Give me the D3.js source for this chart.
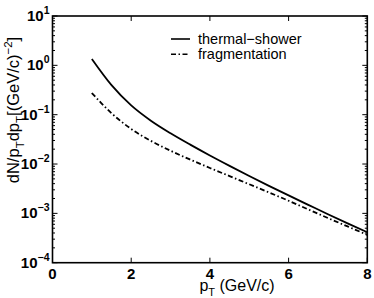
<!DOCTYPE html>
<html>
<head>
<meta charset="utf-8">
<script src="https://cdn.jsdelivr.net/npm/d3@7"></script>
<style>
  body { margin: 0; background: #fff; }
  svg { display: block; font-family: "Liberation Sans", Arial, sans-serif; }
</style>
</head>
<body>
<div id="chart"></div>
<script>
// values
var pT = [1, 1.5, 2, 2.5, 3, 3.5, 4, 4.5, 5, 5.5, 6, 6.5, 7, 7.5, 8];
var thermalShower = [1.343, 0.396, 0.154, 0.0755, 0.042, 0.0247, 0.0149, 0.00918, 0.00573, 0.00361, 0.00231, 0.00149, 0.000962, 0.000628, 0.000415];
var fragmentation = [0.275, 0.107, 0.0513, 0.0295, 0.0186, 0.0123, 0.00832, 0.00569, 0.00389, 0.00266, 0.0018, 0.0012, 0.000804, 0.000543, 0.000367];
var xTicks = [0, 2, 4, 6, 8];
var yExponents = [1, 0, -1, -2, -3, -4];
var legendNames = ["thermal\u2212shower", "fragmentation"];

var width = 374, height = 298;
var margin = {left: 52.5, right: 6.7, top: 16, bottom: 35.3};

var svg = d3.select("#chart").append("svg")
    .attr("width", width)
    .attr("height", height);

var x = d3.scaleLinear().domain([0, 8]).range([margin.left, width - margin.right]);
var y = d3.scaleLog().domain([1e-4, 10]).range([height - margin.bottom, margin.top]);

// minor ticks (log) on left and right
var minor = [];
for (var e = -4; e < 1; e++) {
    for (var k = 2; k <= 9; k++) minor.push(k * Math.pow(10, e));
}
var tickG = svg.append("g").attr("stroke", "#000").attr("stroke-width", 1);
minor.forEach(function (v) {
    tickG.append("line").attr("x1", x(0)).attr("x2", x(0) + 2.5).attr("y1", y(v)).attr("y2", y(v));
    tickG.append("line").attr("x1", x(8)).attr("x2", x(8) - 2.5).attr("y1", y(v)).attr("y2", y(v));
});
yExponents.forEach(function (e) {
    var v = Math.pow(10, e);
    tickG.append("line").attr("x1", x(0)).attr("x2", x(0) + 5).attr("y1", y(v)).attr("y2", y(v));
    tickG.append("line").attr("x1", x(8)).attr("x2", x(8) - 5).attr("y1", y(v)).attr("y2", y(v));
});
xTicks.forEach(function (t) {
    tickG.append("line").attr("x1", x(t)).attr("x2", x(t)).attr("y1", y(1e-4)).attr("y2", y(1e-4) - 5);
    tickG.append("line").attr("x1", x(t)).attr("x2", x(t)).attr("y1", y(10)).attr("y2", y(10) + 5);
});

// frame
svg.append("rect")
    .attr("x", x(0)).attr("y", y(10))
    .attr("width", x(8) - x(0)).attr("height", y(1e-4) - y(10))
    .attr("fill", "none").attr("stroke", "#000").attr("stroke-width", 1.6);

// y tick labels
yExponents.forEach(function (e) {
    var t = svg.append("text")
        .attr("x", x(0) - 3)
        .attr("y", y(Math.pow(10, e)) + 5)
        .attr("text-anchor", "end")
        .attr("font-weight", "bold")
        .attr("font-size", 15);
    t.append("tspan").text("10");
    t.append("tspan").attr("dy", -7).attr("font-size", 10.5)
        .text(e < 0 ? "\u2212" + (-e) : "" + e);
});

// x tick labels
svg.append("g").selectAll("text").data(xTicks).enter().append("text")
    .attr("x", function (d) { return x(d); })
    .attr("y", 278.5)
    .attr("text-anchor", "middle")
    .attr("font-weight", "bold")
    .attr("font-size", 15)
    .text(function (d) { return d; });

// axis titles
var xl = svg.append("text")
    .attr("x", 237).attr("y", 290.5)
    .attr("text-anchor", "middle")
    .attr("font-size", 16);
xl.append("tspan").text("p");
xl.append("tspan").attr("dy", 5).attr("font-size", 11).text("T");
xl.append("tspan").attr("dy", -5).text(" (GeV/c)");

var yl = svg.append("text")
    .attr("transform", "translate(18.5,110) rotate(-90)")
    .attr("text-anchor", "middle")
    .attr("font-size", 16.5);
yl.append("tspan").text("dN/p");
yl.append("tspan").attr("dy", 5).attr("font-size", 11.5).text("T");
yl.append("tspan").attr("dy", -5).text("dp");
yl.append("tspan").attr("dy", 5).attr("font-size", 11.5).text("T");
yl.append("tspan").attr("dy", -5).text("[(GeV/c)");
yl.append("tspan").attr("dy", -7).attr("font-size", 11.5).text("\u22122");
yl.append("tspan").attr("dy", 7).text("]");

// curves
var line = d3.line()
    .x(function (d) { return x(d[0]); })
    .y(function (d) { return y(d[1]); })
    .curve(d3.curveMonotoneX);

var series = [
    {values: thermalShower, dash: null},
    {values: fragmentation, dash: "5,2.5,1.5,2.5"}
];
series.forEach(function (s) {
    svg.append("path")
        .datum(pT.map(function (p, i) { return [p, s.values[i]]; }))
        .attr("d", line)
        .attr("fill", "none")
        .attr("stroke", "#000")
        .attr("stroke-width", 1.8)
        .attr("stroke-dasharray", s.dash);
});

// legend
var legend = svg.append("g");
series.forEach(function (s, i) {
    var ly = 39 + i * 15.3;
    legend.append("line")
        .attr("x1", 171).attr("x2", 190)
        .attr("y1", ly).attr("y2", ly)
        .attr("stroke", "#000").attr("stroke-width", 1.6)
        .attr("stroke-dasharray", s.dash);
    legend.append("text")
        .attr("x", 198).attr("y", ly + 5)
        .attr("font-size", 14.5)
        .text(legendNames[i]);
});
</script>
</body>
</html>
